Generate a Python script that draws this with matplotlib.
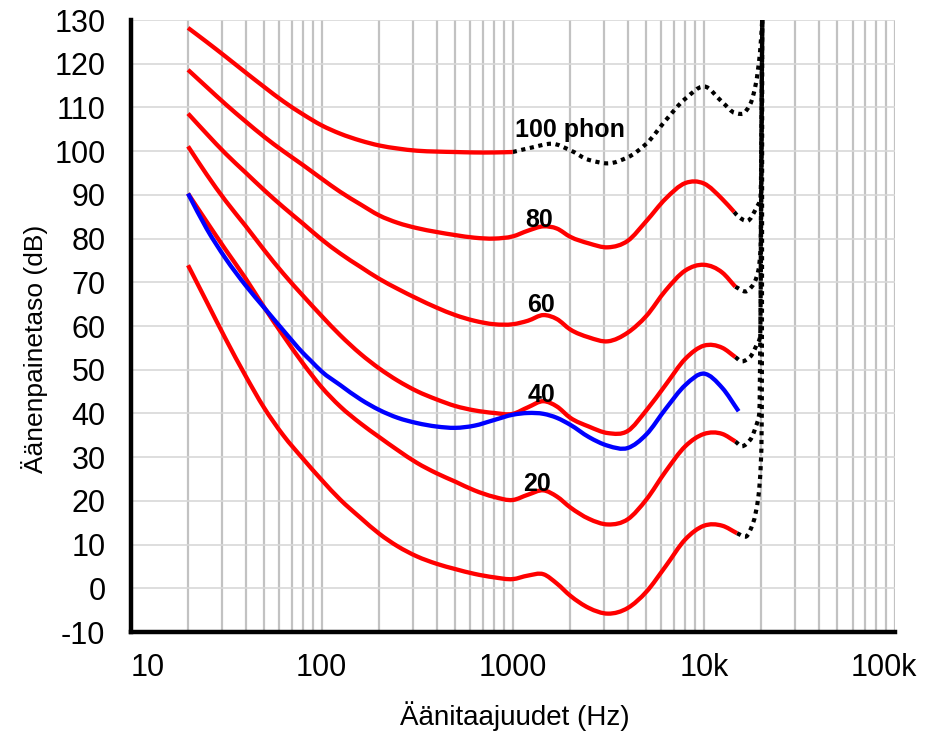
import matplotlib
matplotlib.use("Agg")
import numpy as np
import matplotlib.pyplot as plt
from matplotlib.ticker import FixedLocator, NullFormatter
from matplotlib.path import Path
from matplotlib.patches import PathPatch

plt.rcParams['font.family'] = ['Liberation Sans', 'DejaVu Sans']

# ---------------- data ----------------
freqs = [20, 25, 31.5, 40, 50, 63, 80, 100, 125, 160, 200, 250, 315, 400, 500,
         630, 800, 1000, 1200, 1450, 1700, 2000, 2500, 3150, 4000, 5000, 6300,
         8000, 10000, 12500]

# 100 phon, solid part up to 1 kHz
f100 = [20, 25, 31.5, 40, 50, 63, 80, 100, 125, 160, 200, 250, 315, 400, 500, 630, 800, 1000]
p100 = [128.2, 125.0, 121.6, 118.0, 114.7, 111.4, 108.4, 105.9, 104.0, 102.4, 101.3,
        100.6, 100.1, 99.9, 99.8, 99.7, 99.7, 99.8]

p80 = [118.6, 114.7, 110.7, 106.8, 103.3, 100.0, 96.8, 93.7, 90.7, 87.8, 85.3, 83.6,
       82.4, 81.5, 80.8, 80.2, 80.0, 80.5, 81.8, 82.8, 82.3, 80.4, 78.9, 78.0, 79.5,
       84.0, 89.1, 92.7, 92.6, 89.0]
p60 = [108.6, 104.0, 99.4, 95.1, 91.1, 87.2, 83.4, 79.8, 76.6, 73.5, 70.8, 68.5,
       66.3, 64.2, 62.5, 61.2, 60.4, 60.4, 61.2, 62.5, 61.6, 59.2, 57.4, 56.5, 58.5,
       62.3, 68.1, 72.7, 74.0, 72.2]
p40 = [101.1, 94.7, 88.6, 82.9, 77.4, 72.0, 66.9, 62.3, 57.9, 53.6, 50.3, 47.5, 45.1,
       43.2, 41.7, 40.7, 40.1, 39.9, 41.4, 42.8, 41.6, 39.0, 37.0, 35.5, 36.0, 40.7,
       46.5, 52.5, 55.5, 55.0]
p20 = [90.3, 83.9, 77.4, 70.9, 64.3, 57.8, 51.4, 46.0, 41.6, 37.7, 34.6, 31.6, 28.7,
       26.3, 24.4, 22.4, 20.9, 20.2, 21.4, 22.4, 21.0, 18.5, 15.9, 14.6, 15.8, 20.3,
       26.7, 32.5, 35.3, 35.3]
p0 = [73.9, 65.6, 57.0, 48.6, 41.3, 35.0, 29.6, 24.8, 20.3, 16.1, 12.5, 9.6, 7.3,
      5.6, 4.4, 3.3, 2.5, 2.1, 2.9, 3.2, 1.1, -1.7, -4.5, -5.8, -4.5, -0.8, 5.0,
      11.2, 14.3, 14.3]

# end points of the solid red curves (Hz, dB)
end80, end60, end40, end20, end0 = (14400, 86.1), (14600, 69.0), (14600, 52.9), (14600, 33.6), (14900, 12.6)

# dotted continuations
t100_f = [1000, 1250, 1600, 2000, 2500, 3150, 4000, 5000, 6300, 8000, 10000, 12500,
          14600, 15800, 17500, 18700, 19700, 20200]
t100_v = [99.8, 100.8, 101.7, 100.2, 98.0, 97.2, 98.6, 101.7, 107.0, 112.0, 114.8,
          111.2, 108.7, 108.5, 110.8, 115.4, 123.0, 130.0]
t80_f = [14400, 15200, 16800, 18900, 19800, 20200]
t80_v = [86.1, 85.0, 84.0, 87.2, 89.5, 130.0]
t60_f = [14600, 16500, 17800, 19300, 19800, 20200]
t60_v = [69.0, 67.9, 69.0, 72.8, 78.0, 130.0]
t40_f = [14600, 15800, 17500, 18900, 19700, 20200]
t40_v = [52.9, 51.9, 53.0, 55.7, 57.6, 130.0]
t20_f = [14600, 15800, 17500, 18700, 19500, 20200]
t20_v = [33.6, 32.5, 34.0, 37.0, 40.1, 130.0]
t0_f = [14900, 16500, 18100, 19300, 19900, 20100, 20200]
t0_v = [12.6, 11.8, 15.0, 21.1, 29.5, 40.2, 130.0]

# older 40 phon curve (blue)
blue_f = [20, 25, 31.5, 40, 50, 63, 80, 88, 100, 125, 160, 200, 250, 315, 400, 500,
          630, 800, 1000, 1200, 1450, 1700, 2000, 2500, 3150, 4000, 5000, 6300, 8000,
          10000, 12500, 15200]
blue_v = [90.3, 82.3, 75.4, 69.3, 64.2, 59.0, 53.8, 52.0, 49.6, 46.5, 43.2, 40.8, 39.0,
          37.8, 37.0, 36.7, 37.2, 38.5, 39.7, 40.1, 39.9, 39.0, 37.4, 34.6, 32.6, 32.1,
          35.2, 41.0, 46.5, 49.1, 45.8, 40.5]

# labels
labels = ["100 phon", "80", "60", "40", "20"]
label_f = [1030, 1377, 1410, 1410, 1345]
label_v = [103.2, 82.6, 63.2, 42.7, 22.2]

xticks = [10, 100, 1000, 10000, 100000]
xticklabels = ["10", "100", "1000", "10k", "100k"]
yticks = list(range(-10, 131, 10))


# ---------------- smooth drawing helper (cubic Bezier path through the points) ----------------
def smooth_path(fs, vs, monotone=False):
    x = np.log10(np.asarray(fs, dtype=float))
    y = np.asarray(vs, dtype=float)
    n = len(x)
    h = np.diff(x)
    d = np.diff(y) / h
    m = np.zeros(n)
    m[0], m[-1] = d[0], d[-1]
    for k in range(1, n - 1):
        if monotone:
            if d[k - 1] * d[k] <= 0:
                m[k] = 0.0
            else:
                w1 = 2 * h[k] + h[k - 1]
                w2 = h[k] + 2 * h[k - 1]
                m[k] = (w1 + w2) / (w1 / d[k - 1] + w2 / d[k])
        else:
            m[k] = (h[k] * d[k - 1] + h[k - 1] * d[k]) / (h[k - 1] + h[k])
    verts = [(x[0], y[0])]
    codes = [Path.MOVETO]
    for i in range(n - 1):
        c1 = (x[i] + h[i] / 3, y[i] + m[i] * h[i] / 3)
        c2 = (x[i + 1] - h[i] / 3, y[i + 1] - m[i + 1] * h[i] / 3)
        verts += [c1, c2, (x[i + 1], y[i + 1])]
        codes += [Path.CURVE4] * 3
    verts = [(10 ** vx, vy) for vx, vy in verts]
    return Path(verts, codes)


def draw(ax, fs, vs, monotone=False, **kw):
    patch = PathPatch(smooth_path(fs, vs, monotone), fill=False, transform=ax.transData, **kw)
    ax.add_patch(patch)


# ---------------- figure ----------------
fig = plt.figure(figsize=(9.25, 7.31), dpi=100)
ax = fig.add_axes([130.5 / 925, 1 - 632 / 731, (895 - 130.5) / 925, (632 - 20) / 731])
ax.set_xscale('log')
ax.set_xlim(10, 100000)
ax.set_ylim(-10, 130)

minor = [k * 10 ** d for d in range(1, 5) for k in range(2, 10)]
ax.xaxis.set_major_locator(FixedLocator(xticks))
ax.xaxis.set_minor_locator(FixedLocator(minor))
ax.xaxis.set_minor_formatter(NullFormatter())
ax.set_xticklabels(xticklabels[:-1] + [""])
ax.get_xticklabels()[0].set_ha('left')
ax.set_yticks(yticks)
ax.set_yticklabels([str(v) for v in yticks])

ax.set_axisbelow(True)
ax.grid(which='both', axis='x', color='#c2c2c2', lw=1.6)
ax.grid(which='major', axis='y', color='#d8d8d8', lw=1.2)

for s in ('top', 'right'):
    ax.spines[s].set_visible(False)
for s in ('left', 'bottom'):
    ax.spines[s].set_linewidth(3.2)
    ax.spines[s].set_color('black')
    ax.spines[s].set_zorder(5)

ax.tick_params(which='both', length=0)
ax.tick_params(axis='x', labelsize=22, pad=15)
ax.tick_params(axis='y', labelsize=22, pad=18)

# last x tick label, nudged left so it stays inside the picture
ax.annotate(xticklabels[-1], xy=(xticks[-1], 0), xycoords=('data', 'axes fraction'),
            xytext=(-8, -15), textcoords='offset points', ha='center', va='top',
            fontsize=22, annotation_clip=False)

red = '#ff0000'
lw = 3.1
dot = dict(edgecolor='black', lw=3.0, linestyle=(0, (1, 1.1)), capstyle='butt', zorder=3)
solid = dict(lw=lw, joinstyle='round', capstyle='butt', zorder=4)

draw(ax, t100_f, t100_v, monotone=True, **dot)
for tf, tv in [(t80_f, t80_v), (t60_f, t60_v), (t40_f, t40_v), (t20_f, t20_v), (t0_f, t0_v)]:
    draw(ax, tf, tv, monotone=True, **dot)

draw(ax, f100, p100, edgecolor=red, **solid)
for vals, end in [(p80, end80), (p60, end60), (p40, end40), (p20, end20), (p0, end0)]:
    draw(ax, freqs + [end[0]], vals + [end[1]], edgecolor=red, **solid)
draw(ax, blue_f, blue_v, edgecolor='#0000ff', **solid)

for i, (t, f, v) in enumerate(zip(labels, label_f, label_v)):
    ax.text(f, v, t, fontsize=18, fontweight='bold', ha='left' if i == 0 else 'center',
            va='baseline', zorder=6)

fig.text(515 / 925, 1 - 716 / 731, "Äänitaajuudet (Hz)", fontsize=20, ha='center', va='center')
fig.text(35 / 925, 1 - 349 / 731, "Äänenpainetaso (dB)", fontsize=19, rotation=90,
         ha='center', va='center')

fig.savefig("out.png", dpi=100)
